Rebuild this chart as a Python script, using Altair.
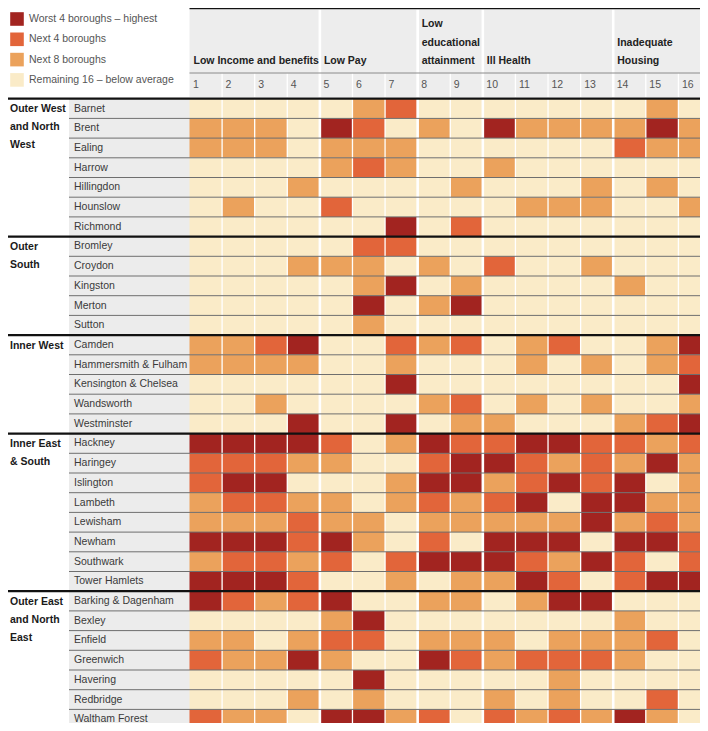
import altair as alt
import pandas as pd

FONT = "Liberation Sans, Arial, sans-serif"
FS = 10.5

# ---------------- data ----------------
indicators = list(range(1, 17))
group_names = ["Low Income and benefits", "Low Pay", "Low\neducational\nattainment",
               "Ill Health", "Inadequate\nHousing"]
group_first = [1, 5, 8, 10, 14]
group_last = [4, 7, 9, 13, 16]

level_labels = ["Worst 4 boroughs – highest", "Next 4 boroughs", "Next 8 boroughs",
                "Remaining 16 – below average"]
level_colors = ["#a22420", "#e2653a", "#eba25c", "#faebc8"]

region_names = ["Outer West\nand North\nWest", "Outer\nSouth", "Inner West",
                "Inner East\n& South", "Outer East\nand North\nEast"]

outer_west = ["Barnet", "Brent", "Ealing", "Harrow", "Hillingdon", "Hounslow", "Richmond"]
outer_west_levels = [
    [0, 0, 0, 0, 0, 1, 2, 0, 0, 0, 0, 0, 0, 0, 1, 0],
    [1, 1, 1, 0, 3, 2, 0, 1, 0, 3, 1, 1, 1, 1, 3, 1],
    [1, 1, 1, 0, 1, 1, 1, 0, 0, 0, 0, 0, 0, 2, 1, 1],
    [0, 0, 0, 0, 1, 2, 1, 0, 0, 1, 0, 0, 0, 0, 0, 0],
    [0, 0, 0, 1, 0, 0, 0, 0, 1, 0, 0, 0, 1, 0, 1, 0],
    [0, 1, 0, 0, 2, 0, 0, 0, 0, 0, 1, 1, 1, 0, 0, 1],
    [0, 0, 0, 0, 0, 0, 3, 0, 2, 0, 0, 0, 0, 0, 0, 0],
]

outer_south = ["Bromley", "Croydon", "Kingston", "Merton", "Sutton"]
outer_south_levels = [
    [0, 0, 0, 0, 0, 2, 2, 0, 0, 0, 0, 0, 0, 0, 0, 0],
    [0, 0, 0, 1, 1, 1, 0, 1, 0, 2, 0, 0, 1, 0, 0, 0],
    [0, 0, 0, 0, 0, 1, 3, 0, 1, 0, 0, 0, 0, 1, 0, 0],
    [0, 0, 0, 0, 0, 3, 0, 1, 3, 0, 0, 0, 0, 0, 0, 0],
    [0, 0, 0, 0, 0, 1, 0, 0, 0, 0, 0, 0, 0, 0, 0, 0],
]

inner_west = ["Camden", "Hammersmith & Fulham", "Kensington & Chelsea", "Wandsworth", "Westminster"]
inner_west_levels = [
    [1, 1, 2, 3, 0, 0, 2, 1, 2, 0, 1, 2, 0, 0, 1, 3],
    [1, 1, 1, 1, 0, 0, 1, 0, 0, 0, 1, 0, 1, 0, 1, 2],
    [0, 0, 0, 0, 0, 0, 3, 0, 0, 0, 0, 0, 0, 0, 0, 3],
    [0, 0, 1, 0, 0, 0, 0, 1, 2, 0, 1, 0, 1, 0, 0, 1],
    [0, 0, 0, 3, 0, 0, 3, 0, 1, 1, 0, 0, 0, 1, 2, 3],
]

inner_east = ["Hackney", "Haringey", "Islington", "Lambeth", "Lewisham", "Newham",
              "Southwark", "Tower Hamlets"]
inner_east_levels = [
    [3, 3, 3, 3, 2, 0, 1, 3, 2, 2, 3, 3, 2, 2, 1, 2],
    [2, 2, 2, 1, 1, 0, 0, 2, 3, 3, 2, 1, 2, 1, 3, 1],
    [2, 3, 3, 0, 0, 0, 1, 3, 3, 1, 2, 3, 2, 3, 0, 1],
    [1, 2, 2, 1, 1, 0, 1, 2, 1, 2, 3, 0, 3, 3, 1, 1],
    [1, 1, 1, 2, 1, 1, 0, 1, 1, 1, 1, 1, 3, 1, 2, 1],
    [3, 3, 3, 2, 3, 1, 0, 2, 0, 3, 3, 3, 0, 3, 3, 2],
    [1, 2, 2, 1, 2, 0, 2, 3, 3, 3, 2, 1, 3, 2, 0, 2],
    [3, 3, 3, 2, 0, 0, 1, 0, 1, 1, 3, 2, 0, 2, 3, 3],
]

outer_east = ["Barking & Dagenham", "Bexley", "Enfield", "Greenwich", "Havering",
              "Redbridge", "Waltham Forest"]
outer_east_levels = [
    [3, 2, 1, 2, 3, 0, 0, 1, 1, 0, 1, 3, 3, 0, 0, 0],
    [0, 0, 0, 0, 1, 3, 0, 0, 0, 0, 0, 0, 0, 1, 0, 0],
    [1, 1, 0, 1, 2, 2, 0, 1, 1, 1, 0, 1, 1, 1, 2, 0],
    [2, 1, 1, 3, 1, 0, 0, 3, 2, 1, 2, 2, 2, 1, 0, 0],
    [0, 0, 0, 0, 0, 3, 0, 0, 0, 0, 0, 1, 0, 0, 0, 0],
    [0, 0, 0, 1, 0, 1, 0, 0, 0, 1, 0, 1, 0, 0, 2, 0],
    [2, 1, 1, 0, 3, 3, 1, 2, 0, 2, 1, 2, 1, 3, 1, 0],
]

region_boroughs = [outer_west, outer_south, inner_west, inner_east, outer_east]
region_levels = [outer_west_levels, outer_south_levels, inner_west_levels,
                 inner_east_levels, outer_east_levels]

# ---------------- tables ----------------
cell_rows, borough_rows, region_rows, line_rows = [], [], [], []
r = 0
for reg, bors, levs in zip(region_names, region_boroughs, region_levels):
    region_rows.append({"region": reg, "r": r})
    for k, (b, lv) in enumerate(zip(bors, levs)):
        borough_rows.append({"borough": b, "r": r})
        if k > 0:
            line_rows.append({"r": r})
        for c, v in zip(indicators, lv):
            cell_rows.append({"borough": b, "r": r, "c": c, "level": level_labels[3 - v]})
        r += 1

head_rows = []
for name, first in zip(group_names, group_first):
    parts = name.split("\n")
    for i, p in enumerate(parts):
        head_rows.append({"text": p, "first": first, "k": len(parts) - 1 - i})

cells = pd.DataFrame(cell_rows)
boroughs = pd.DataFrame(borough_rows)
regions = pd.DataFrame(region_rows)
inner_lines = pd.DataFrame(line_rows)
cols = pd.DataFrame({"c": indicators})
groups = pd.DataFrame({"name": group_names, "first": group_first, "last": group_last})
head_lines = pd.DataFrame(head_rows)
group_bounds = pd.DataFrame({"b": group_last[:-1]})
col_bounds = pd.DataFrame({"b": [c for c in indicators[:-1] if c not in group_last]})
frame = pd.DataFrame({"a": [0], "b": [len(indicators)]})

W, H = 692, 715
ROW = 19.7
XS = alt.Scale(domain=[0, 16], range=[181.5, 703], nice=False, zero=False)
YS = alt.Scale(domain=[0, 32], range=[90.7, 90.7 + 32 * ROW], nice=False, zero=False)

# header backgrounds
head_bg = alt.Chart(groups).transform_calculate(x0="datum.first - 1").mark_rect(
    color="#ededed").encode(
    x=alt.X("x0:Q", scale=XS, axis=None), x2="last:Q",
    y=alt.value(1.5), y2=alt.value(65))
num_bg = alt.Chart(cols).transform_calculate(x0="datum.c - 1").mark_rect(
    color="#ededed").encode(
    x=alt.X("x0:Q", scale=XS, axis=None), x2="c:Q",
    y=alt.value(65), y2=alt.value(89))
head_line = alt.Chart(frame).mark_rule(color="#8a8a8a", strokeWidth=1).encode(
    x=alt.X("a:Q", scale=XS, axis=None), x2="b:Q", y=alt.value(65))
top_line = alt.Chart(frame).mark_rule(color="#111", strokeWidth=1.8).encode(
    x=alt.X("a:Q", scale=XS, axis=None), x2="b:Q", y=alt.value(0.4))

# borough label background
lab_bg = alt.Chart(boroughs).transform_calculate(r1="datum.r + 1").mark_rect(
    color="#ececec").encode(
    x=alt.value(61), x2=alt.value(182),
    y=alt.Y("r:Q", scale=YS, axis=None), y2="r1:Q")

# cells
cell_layer = alt.Chart(cells).transform_calculate(
    x0="datum.c - 1", r1="datum.r + 1").mark_rect().encode(
    x=alt.X("x0:Q", scale=XS, axis=None), x2="c:Q",
    y=alt.Y("r:Q", scale=YS, axis=None), y2="r1:Q",
    color=alt.Color("level:N", scale=alt.Scale(domain=level_labels, range=level_colors),
                    legend=alt.Legend(title=None, orient="none", legendX=2, legendY=4,
                                      symbolType="square", symbolSize=185,
                                      symbolStrokeWidth=0, symbolOpacity=1,
                                      labelFontSize=FS, labelFont=FONT,
                                      labelColor="#555", labelOffset=5,
                                      labelLimit=300, rowPadding=6.3, padding=0)))

# white separators
col_sep = alt.Chart(col_bounds).mark_rule(color="white", strokeWidth=1.3).encode(
    x=alt.X("b:Q", scale=XS, axis=None), y=alt.value(65.5), y2=alt.value(H))
grp_sep = alt.Chart(group_bounds).mark_rule(color="white", strokeWidth=2.6).encode(
    x=alt.X("b:Q", scale=XS, axis=None), y=alt.value(1.5), y2=alt.value(H))

# horizontal lines
row_lines = alt.Chart(inner_lines).mark_rule(color="#6e6e6e", strokeWidth=1).encode(
    x=alt.value(61), x2=alt.value(W), y=alt.Y("r:Q", scale=YS, axis=None))
reg_lines = alt.Chart(regions).mark_rule(color="#111", strokeWidth=2.3).encode(
    x=alt.value(0), x2=alt.value(W), y=alt.Y("r:Q", scale=YS, axis=None))

# texts
num_text = alt.Chart(cols).transform_calculate(x0="datum.c - 1").mark_text(
    align="left", baseline="middle", dx=3.5, font=FONT, fontSize=FS, color="#555").encode(
    x=alt.X("x0:Q", scale=XS, axis=None), y=alt.value(77), text="c:N")
grp_text = alt.Chart(head_lines).transform_calculate(
    x0="datum.first - 1", ty="56 - 18.5 * datum.k").mark_text(
    align="left", baseline="alphabetic", dx=4, font=FONT, fontSize=FS, fontWeight="bold",
    color="#222").encode(
    x=alt.X("x0:Q", scale=XS, axis=None), y=alt.Y("ty:Q", scale=None), text="text:N")
bor_text = alt.Chart(boroughs).transform_calculate(rc="datum.r + 0.5").mark_text(
    align="left", baseline="middle", font=FONT, fontSize=FS, color="#3a3a3a").encode(
    x=alt.value(66), y=alt.Y("rc:Q", scale=YS, axis=None), text="borough:N")
reg_text = alt.Chart(regions).mark_text(
    align="left", baseline="top", dy=5.6, font=FONT, fontSize=FS, fontWeight="bold",
    color="#1a1a1a", lineBreak="\n", lineHeight=18).encode(
    x=alt.value(2), y=alt.Y("r:Q", scale=YS, axis=None), text="region:N")

chart = alt.layer(
    head_bg, num_bg, lab_bg, cell_layer, col_sep, grp_sep, head_line,
    row_lines, reg_lines, top_line, num_text, grp_text, bor_text, reg_text
).properties(
    width=W, height=H, padding=0, autosize=alt.AutoSizeParams(type="none")
).configure_view(stroke=None)

chart.save("out.html", embed_options={"renderer": "svg", "actions": False})
